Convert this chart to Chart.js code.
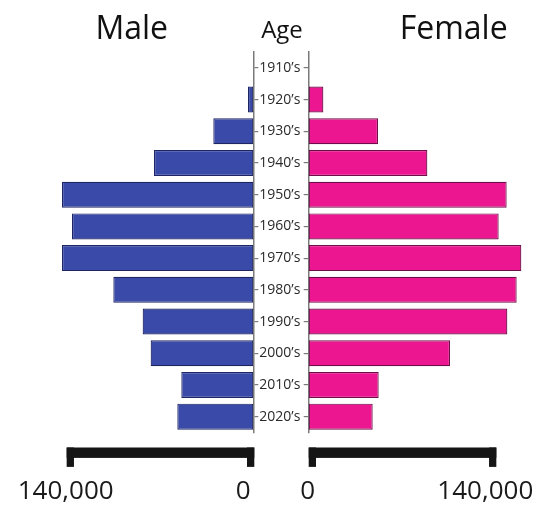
<!DOCTYPE html>
<html>
<head>
<meta charset="utf-8">
<title>Population pyramid</title>
<script src="https://cdn.jsdelivr.net/npm/chart.js@4.4.1/dist/chart.umd.min.js"></script>
<style>
  html, body { margin: 0; padding: 0; background: #fff; }
  #wrap { position: relative; width: 539px; height: 507px; overflow: hidden; }
  #male { position: absolute; left: 0; top: 0; }
  #female { position: absolute; left: 250px; top: 0; }
</style>
</head>
<body>
<div id="wrap">
  <canvas id="male" width="310" height="507"></canvas>
  <canvas id="female" width="289" height="507"></canvas>
</div>
<script>
// Decades of birth, top to bottom
const ageGroups = ["1910’s", "1920’s", "1930’s", "1940’s", "1950’s", "1960’s",
                   "1970’s", "1980’s", "1990’s", "2000’s", "2010’s", "2020’s"];

// Population per decade
const maleCounts   = [0, 4000, 30000, 74500, 143500, 136000, 143500, 105000, 83000, 77000, 54000, 57000];
const femaleCounts = [0, 11000, 52000, 89000, 148500, 142500, 159500, 156000, 149000, 106000, 52500, 48000];

// Values marked on the scale bars under each half
const scaleBarValues = [0, 140000];

const xMax = 160000;
const labelFont = { family: "'Open Sans', sans-serif", size: 14 };

// Draws the headings and the black scale bar under each half
const decor = {
  id: 'pyramidDecor',
  afterDraw(chart, args, opts) {
    const ctx = chart.ctx;
    const xs = chart.scales.x;
    const area = chart.chartArea;
    ctx.save();
    ctx.fillStyle = '#111';
    ctx.textBaseline = 'alphabetic';
    ctx.textAlign = 'center';
    (opts.headers || []).forEach(h => {
      ctx.font = h.size + "px 'Open Sans', sans-serif";
      ctx.fillText(h.text, h.x, h.y);
    });

    const pts = opts.values.map(v => ({ v, p: xs.getPixelForValue(v) }));
    const L = Math.min(...pts.map(o => o.p));
    const R = Math.max(...pts.map(o => o.p)) + 1;
    const top = area.bottom + 15;
    ctx.fillStyle = '#151515';
    ctx.fillRect(L, top, R - L, 10.4);
    ctx.fillRect(L, top, 7.3, 19.4);
    ctx.fillRect(R - 7.3, top, 7.3, 19.4);

    ctx.fillStyle = '#1a1a1a';
    ctx.font = "26px 'Open Sans', sans-serif";
    pts.forEach(o => {
      const isLeft = Math.abs(o.p - L) < 2;
      const x = isLeft ? L - 1 : R - 11;
      ctx.fillText(o.v.toLocaleString('en-US'), x, top + 51);
    });
    ctx.restore();
  }
};

const axisGrid = { drawOnChartArea: false, drawTicks: true, tickLength: 5, color: '#7a7a7a', lineWidth: 1.2, offset: false };
const axisBorder = { display: true, color: '#7a7a7a', width: 1.5 };

function barDataset(label, values, fill, edge) {
  return {
    label,
    data: values,
    backgroundColor: fill,
    borderColor: edge,
    borderWidth: c => (c.raw > 0 ? 1.2 : 0),
    borderSkipped: false,
    barPercentage: 0.82,
    categoryPercentage: 1
  };
}

new Chart(document.getElementById('male'), {
  type: 'bar',
  data: {
    labels: ageGroups,
    datasets: [barDataset('Male', maleCounts, '#3a4aa8', '#1e2563')]
  },
  options: {
    indexAxis: 'y',
    responsive: false,
    animation: false,
    layout: { padding: { left: 40, right: 0, top: 52, bottom: 74.5 } },
    plugins: {
      legend: { display: false },
      tooltip: { enabled: false },
      pyramidDecor: {
        values: scaleBarValues,
        headers: [
          { text: 'Male', x: 131.7, y: 38.5, size: 32 },
          { text: 'Age', x: 282, y: 37.5, size: 24 }
        ]
      }
    },
    scales: {
      x: { display: false, reverse: true, min: 0, max: xMax },
      y: {
        position: 'right',
        grid: axisGrid,
        border: axisBorder,
        ticks: { color: '#2a2a2a', font: labelFont, padding: 1, autoSkip: false },
        afterFit(s) { s.width = 56.7; }
      }
    }
  },
  plugins: [decor]
});

new Chart(document.getElementById('female'), {
  type: 'bar',
  data: {
    labels: ageGroups,
    datasets: [barDataset('Female', femaleCounts, '#ec1690', '#6e0d47')]
  },
  options: {
    indexAxis: 'y',
    responsive: false,
    animation: false,
    layout: { padding: { left: 0, right: 17, top: 52, bottom: 74.5 } },
    plugins: {
      legend: { display: false },
      tooltip: { enabled: false },
      pyramidDecor: {
        values: scaleBarValues,
        headers: [
          { text: 'Female', x: 203.7, y: 38.5, size: 32 }
        ]
      }
    },
    scales: {
      x: { display: false, min: 0, max: xMax },
      y: {
        position: 'left',
        grid: axisGrid,
        border: axisBorder,
        ticks: { display: false, autoSkip: false },
        afterFit(s) { s.width = 58.7; }
      }
    }
  },
  plugins: [decor]
});
</script>
</body>
</html>
